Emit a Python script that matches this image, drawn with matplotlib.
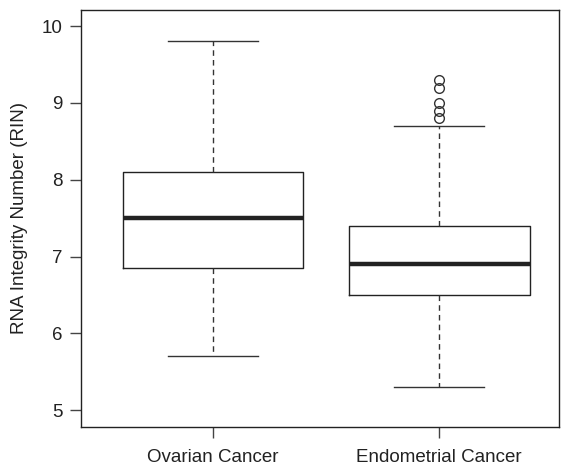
import matplotlib.pyplot as plt

plt.rcParams['font.family'] = ['Liberation Sans', 'DejaVu Sans']

groups = ["Ovarian Cancer", "Endometrial Cancer"]
lower_whisker = [5.7, 5.3]
q1 = [6.85, 6.5]
median = [7.5, 6.9]
q3 = [8.1, 7.4]
upper_whisker = [9.8, 8.7]
outliers = [[], [9.3, 9.2, 9.0, 8.9, 8.8]]

stats = []
for i, name in enumerate(groups):
    stats.append({"label": name, "whislo": lower_whisker[i], "q1": q1[i],
                  "med": median[i], "q3": q3[i], "whishi": upper_whisker[i],
                  "fliers": outliers[i]})

fig = plt.figure(figsize=(5.61, 4.68), dpi=100)
ax = fig.add_axes([81 / 561, 1 - 427 / 468, 478 / 561, 417 / 468])

ax.bxp(stats, positions=[1, 2], widths=0.8, showfliers=True,
       boxprops=dict(color="#222222", linewidth=1.0),
       medianprops=dict(color="#222222", linewidth=3.2, solid_capstyle="butt"),
       whiskerprops=dict(color="#333333", linewidth=1.0, linestyle=(0, (4, 3))),
       capprops=dict(color="#333333", linewidth=1.0),
       capwidths=0.4,
       flierprops=dict(marker="o", markerfacecolor="none", markeredgecolor="#333333",
                       markersize=7, markeredgewidth=1.0))

ax.set_xlim(0.416, 2.53)
ax.set_ylim(4.78, 10.21)
ax.set_yticks([5, 6, 7, 8, 9, 10])
ax.set_xticks([1, 2])
ax.set_xticklabels(groups)
ax.tick_params(axis="both", direction="out", length=8, width=1, color="#444444",
               labelsize=13.5, labelcolor="#222222")
ax.tick_params(axis="x", pad=8)
ax.tick_params(axis="y", pad=5)
ax.set_ylabel("RNA Integrity Number (RIN)", fontsize=13.5, color="#222222", labelpad=10)
for s in ax.spines.values():
    s.set_color("#222222")
    s.set_linewidth(1.0)

fig.savefig("out.png", dpi=100)
